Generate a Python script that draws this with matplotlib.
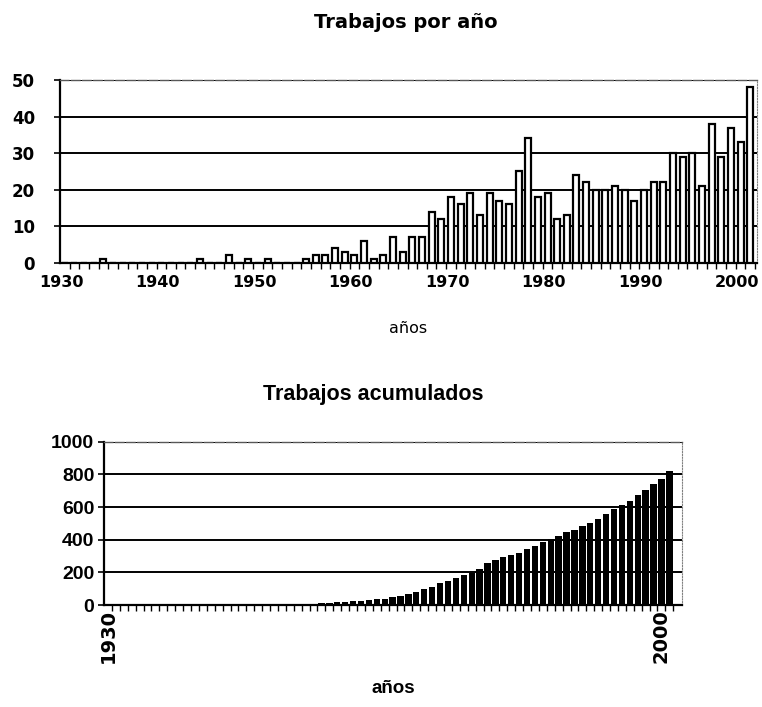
import numpy as np
import matplotlib
matplotlib.use("Agg")
import matplotlib.pyplot as plt
from matplotlib.ticker import FixedLocator

plt.rcParams["font.family"] = ["Liberation Sans", "DejaVu Sans"]
WIDE = ["DejaVu Sans"]   # the scanned labels are spread out, a wider face fits better

# works published per year (years with no bar are zero)
years = np.arange(1930, 2002)
work_years = [1934, 1944, 1947, 1949, 1951,
              1955, 1956, 1957, 1958, 1959, 1960, 1961, 1962, 1963, 1964,
              1965, 1966, 1967, 1968, 1969, 1970, 1971, 1972, 1973, 1974,
              1975, 1976, 1977, 1978, 1979, 1980, 1981, 1982, 1983, 1984,
              1985, 1986, 1987, 1988, 1989, 1990, 1991, 1992, 1993, 1994,
              1995, 1996, 1997, 1998, 1999, 2000, 2001]
work_counts = [1, 1, 2, 1, 1,
               1, 2, 2, 4, 3, 2, 6, 1, 2, 7,
               3, 7, 7, 14, 12, 18, 16, 19, 13, 19,
               17, 16, 25, 34, 18, 19, 12, 13, 24, 22,
               20, 20, 21, 20, 17, 20, 22, 22, 30, 29,
               30, 21, 38, 29, 37, 33, 48]

top_yticks = [0, 10, 20, 30, 40, 50]
top_xlabels = [1930, 1940, 1950, 1960, 1970, 1980, 1990, 2000]
bot_yticks = [0, 200, 400, 600, 800, 1000]
bot_xlabels = [1930, 2000]

per_year = np.zeros(len(years))
for y, c in zip(work_years, work_counts):
    per_year[y - years[0]] = c
accum = np.cumsum(per_year)

fig = plt.figure(figsize=(7.62, 7.07), dpi=100)


def style_axis(ax, yticks, xlabels, shift=0.0):
    ax.set_yticks(yticks)
    ax.set_ylim(yticks[0], yticks[-1])
    ax.yaxis.grid(True, color="black", linewidth=1.4)
    ax.set_axisbelow(True)
    ax.spines["top"].set_linestyle((0, (6, 2)))
    ax.spines["top"].set_color("0.35")
    ax.spines["top"].set_linewidth(1.0)
    ax.spines["right"].set_linestyle((0, (1, 1.5)))
    ax.spines["right"].set_color("0.5")
    ax.spines["right"].set_linewidth(0.8)
    ax.spines["left"].set_linewidth(1.6)
    ax.spines["bottom"].set_linewidth(1.6)
    ax.xaxis.set_major_locator(FixedLocator(np.array(xlabels) - shift))
    ax.xaxis.set_minor_locator(FixedLocator(years + 0.5))
    ax.tick_params(axis="x", which="major", length=0)
    ax.tick_params(axis="x", which="minor", length=4, width=1.0, direction="out")
    ax.tick_params(axis="y", length=4, width=1.2, direction="out")


# top: works per year
ax1 = fig.add_axes([60 / 762, 1 - 262.7 / 707, 697 / 762, 182.7 / 707])
ax1.bar(years, per_year, width=0.62, facecolor="white", edgecolor="black",
        linewidth=1.6, zorder=3)
ax1.set_xlim(1929.5, 2001.7)
style_axis(ax1, top_yticks, top_xlabels, shift=0.4)
ax1.set_xticklabels([str(v) for v in top_xlabels], fontsize=11.5,
                    fontweight="bold", family=WIDE)
ax1.set_yticklabels([str(v) for v in top_yticks], fontsize=12,
                    fontweight="bold", family=WIDE)
ax1.tick_params(axis="x", which="major", pad=9)
ax1.tick_params(axis="y", pad=14)
ax1.set_xlabel("años", fontsize=11.5, labelpad=22, family=WIDE)
fig.text(0.532, 0.968, "Trabajos por año", fontsize=14, ha="center",
         va="center", fontweight="bold", family=WIDE)

# bottom: accumulated works
ax2 = fig.add_axes([104 / 762, 1 - 605 / 707, 578 / 762, 163.3 / 707])
ax2.bar(years, accum, width=0.8, color="black", zorder=3)
ax2.set_xlim(1929.5, 2002.6)
style_axis(ax2, bot_yticks, bot_xlabels)
ax2.set_xticklabels([str(v) for v in bot_xlabels], fontsize=14,
                    fontweight="bold", rotation=90, family=WIDE)
ax2.set_yticklabels([str(v) for v in bot_yticks], fontsize=14,
                    fontweight="bold")
ax2.tick_params(axis="x", which="major", pad=3)
ax2.tick_params(axis="y", pad=3)
ax2.set_xlabel("años", fontsize=13.5, fontweight="bold", labelpad=12)
fig.text(0.49, 0.442, "Trabajos acumulados", fontsize=15.5, ha="center",
         va="center", fontweight="bold")

fig.savefig("out.png", dpi=100)
